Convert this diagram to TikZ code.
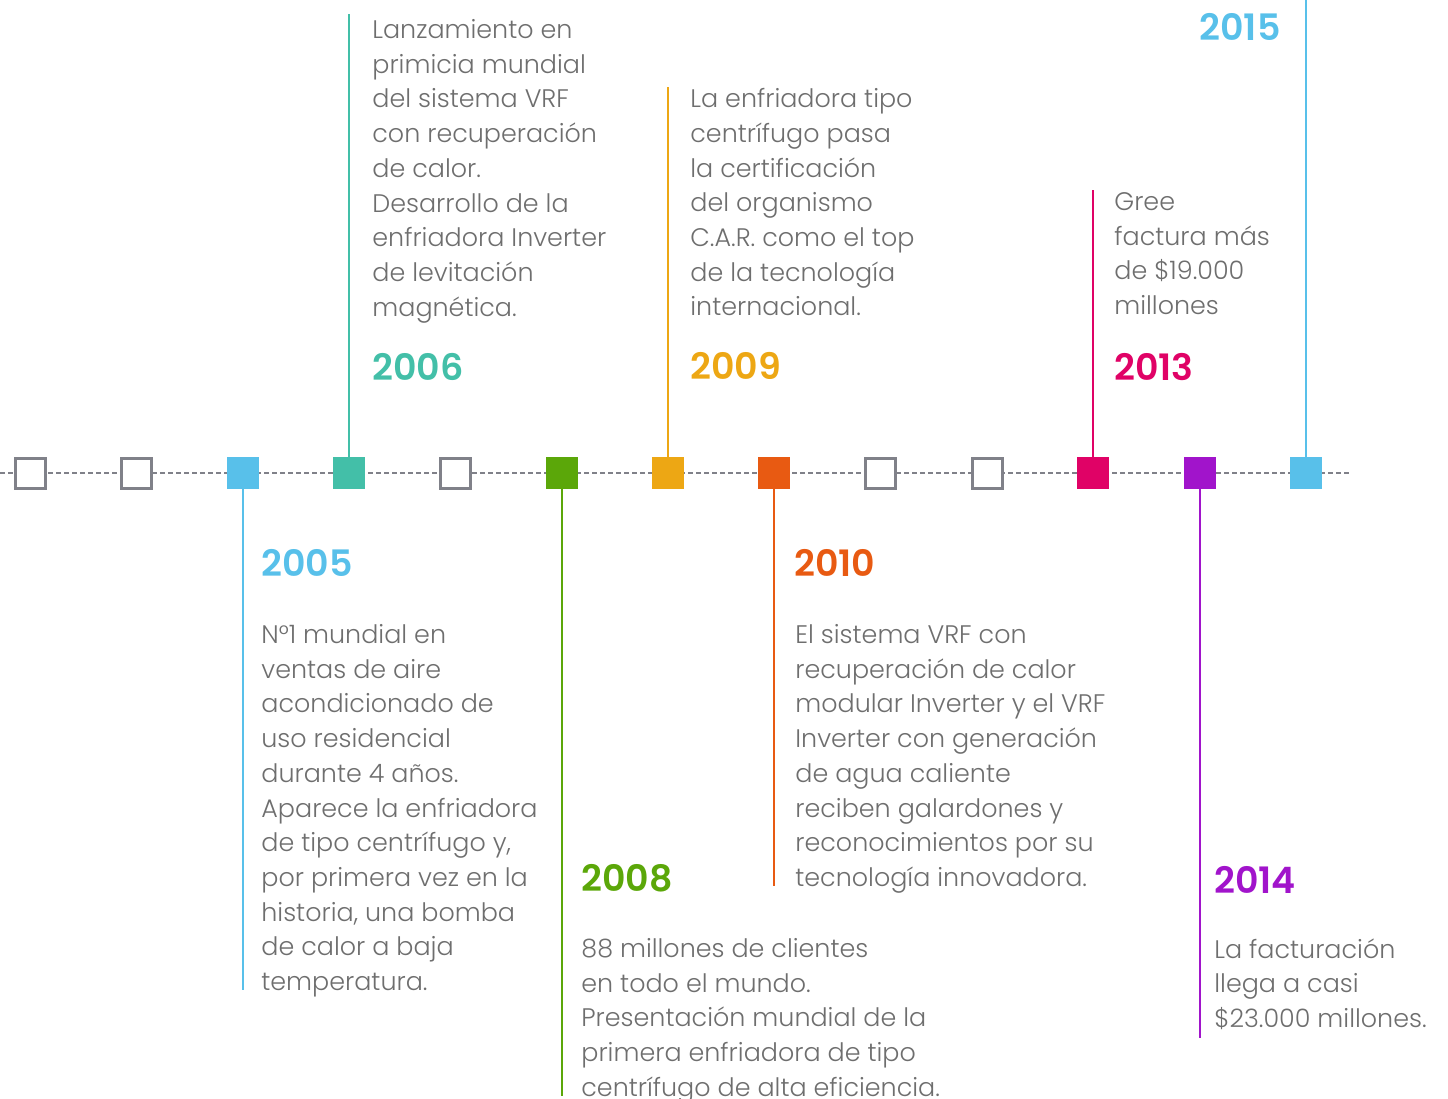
\documentclass[tikz,border=0pt]{standalone}
\usepackage{fontspec}
\setmainfont{Poppins}[UprightFont=* Light, BoldFont=* SemiBold]
\usepackage{tikz}
\usetikzlibrary{positioning}

\definecolor{cBlue}{HTML}{58C0EA}
\definecolor{cTeal}{HTML}{43BFA8}
\definecolor{cGreen}{HTML}{5BA709}
\definecolor{cOrange}{HTML}{EDA714}
\definecolor{cRed}{HTML}{E85A12}
\definecolor{cPink}{HTML}{E00266}
\definecolor{cPurple}{HTML}{A114CB}
\definecolor{cBox}{HTML}{808189}
\definecolor{cText}{HTML}{6E6E6E}

\tikzset{
  yearbox/.style={draw=none, minimum size=16pt, inner sep=0pt},
  emptybox/.style={draw=cBox, line width=1.5pt, fill=white, minimum size=15pt, inner sep=0pt},
  stem/.style={line width=1.3pt},
  year/.style={inner sep=0pt, font=\bfseries\fontsize{18.2}{20}\selectfont},
  blurb/.style={inner sep=0pt, anchor=north west, align=left, text=cText,
    font=\fontsize{12.7}{17.35}\selectfont}
}

\begin{document}
\begin{tikzpicture}[x=0.5pt,y=-0.5pt]
\useasboundingbox (0,0) rectangle (1448,1099);

%dashed axis
\coordinate (axisL) at (0,473);
\coordinate (axisR) at (1350,473);
\draw [cBox, line width=0.75pt, dash pattern=on 2.5pt off 1.5pt] (axisL) -- (axisR);

%boxes on the axis
\node [emptybox] (b1) at (30,473) {};
\node [emptybox] (b2) at (136,473) {};
\node [yearbox, fill=cBlue] (y2005) at (243,473) {};
\node [yearbox, fill=cTeal] (y2006) at (349,473) {};
\node [emptybox] (b5) at (455,473) {};
\node [yearbox, fill=cGreen] (y2008) at (562,473) {};
\node [yearbox, fill=cOrange] (y2009) at (668,473) {};
\node [yearbox, fill=cRed] (y2010) at (774,473) {};
\node [emptybox] (b9) at (880,473) {};
\node [emptybox] (b10) at (987,473) {};
\node [yearbox, fill=cPink] (y2013) at (1093,473) {};
\node [yearbox, fill=cPurple] (y2014) at (1200,473) {};
\node [yearbox, fill=cBlue] (y2015) at (1306,473) {};

%stem ends
\coordinate (e2005) at (243,990);
\coordinate (e2006) at (349,14);
\coordinate (e2008) at (562,1096);
\coordinate (e2009) at (668,87);
\coordinate (e2010) at (774,886);
\coordinate (e2013) at (1093,190);
\coordinate (e2014) at (1200,1038);
\coordinate (e2015) at (1306,0);

\draw [stem, cBlue] (y2005.south) -- (e2005);
\draw [stem, cTeal] (y2006.north) -- (e2006);
\draw [stem, cGreen] (y2008.south) -- (e2008);
\draw [stem, cOrange] (y2009.north) -- (e2009);
\draw [stem, cRed] (y2010.south) -- (e2010);
\draw [stem, cPink] (y2013.north) -- (e2013);
\draw [stem, cPurple] (y2014.south) -- (e2014);
\draw [stem, cBlue] (y2015.north) -- (e2015);

% Text Node
\node [blurb] (t2006) at (372,19) {Lanzamiento en\\primicia mundial\\del sistema VRF\\con recuperación\\de calor.\\Desarrollo de la\\enfriadora Inverter\\de levitación\\magnética.};
\node [year, anchor=west, text=cTeal] (l2006) at (372,367) {2006};
% Text Node
\node [blurb] (t2009) at (690,88) {La enfriadora tipo\\centrífugo pasa\\la certificación\\del organismo\\C.A.R. como el top\\de la tecnología\\internacional.};
\node [year, anchor=west, text=cOrange] (l2009) at (690,366) {2009};
% Text Node
\node [blurb] (t2013) at (1114,192) {Gree\\factura más\\de \$19.000\\millones};
\node [year, anchor=west, text=cPink] (l2013) at (1114,367) {2013};
% Text Node
\node [year, anchor=east, text=cBlue] (l2015) at (1281,27) {2015};
% Text Node
\node [year, anchor=west, text=cBlue] (l2005) at (261,563) {2005};
\node [blurb] (t2005) at (261,624) {N°1 mundial en\\ventas de aire\\acondicionado de\\uso residencial\\durante 4 años.\\Aparece la enfriadora\\de tipo centrífugo y,\\por primera vez en la\\historia, una bomba\\de calor a baja\\temperatura.};
% Text Node
\node [year, anchor=west, text=cGreen] (l2008) at (581,878) {2008};
\node [blurb] (t2008) at (581,938) {88 millones de clientes\\en todo el mundo.\\Presentación mundial de la\\primera enfriadora de tipo\\centrífugo de alta eficiencia.};
% Text Node
\node [year, anchor=west, text=cRed] (l2010) at (794,563) {2010};
\node [blurb] (t2010) at (795,624) {El sistema VRF con\\recuperación de calor\\modular Inverter y el VRF\\Inverter con generación\\de agua caliente\\reciben galardones y\\reconocimientos por su\\tecnología innovadora.};
% Text Node
\node [year, anchor=west, text=cPurple] (l2014) at (1214,880) {2014};
\node [blurb] (t2014) at (1214,938) {La facturación\\llega a casi\\\$23.000 millones.};

\end{tikzpicture}
\end{document}
